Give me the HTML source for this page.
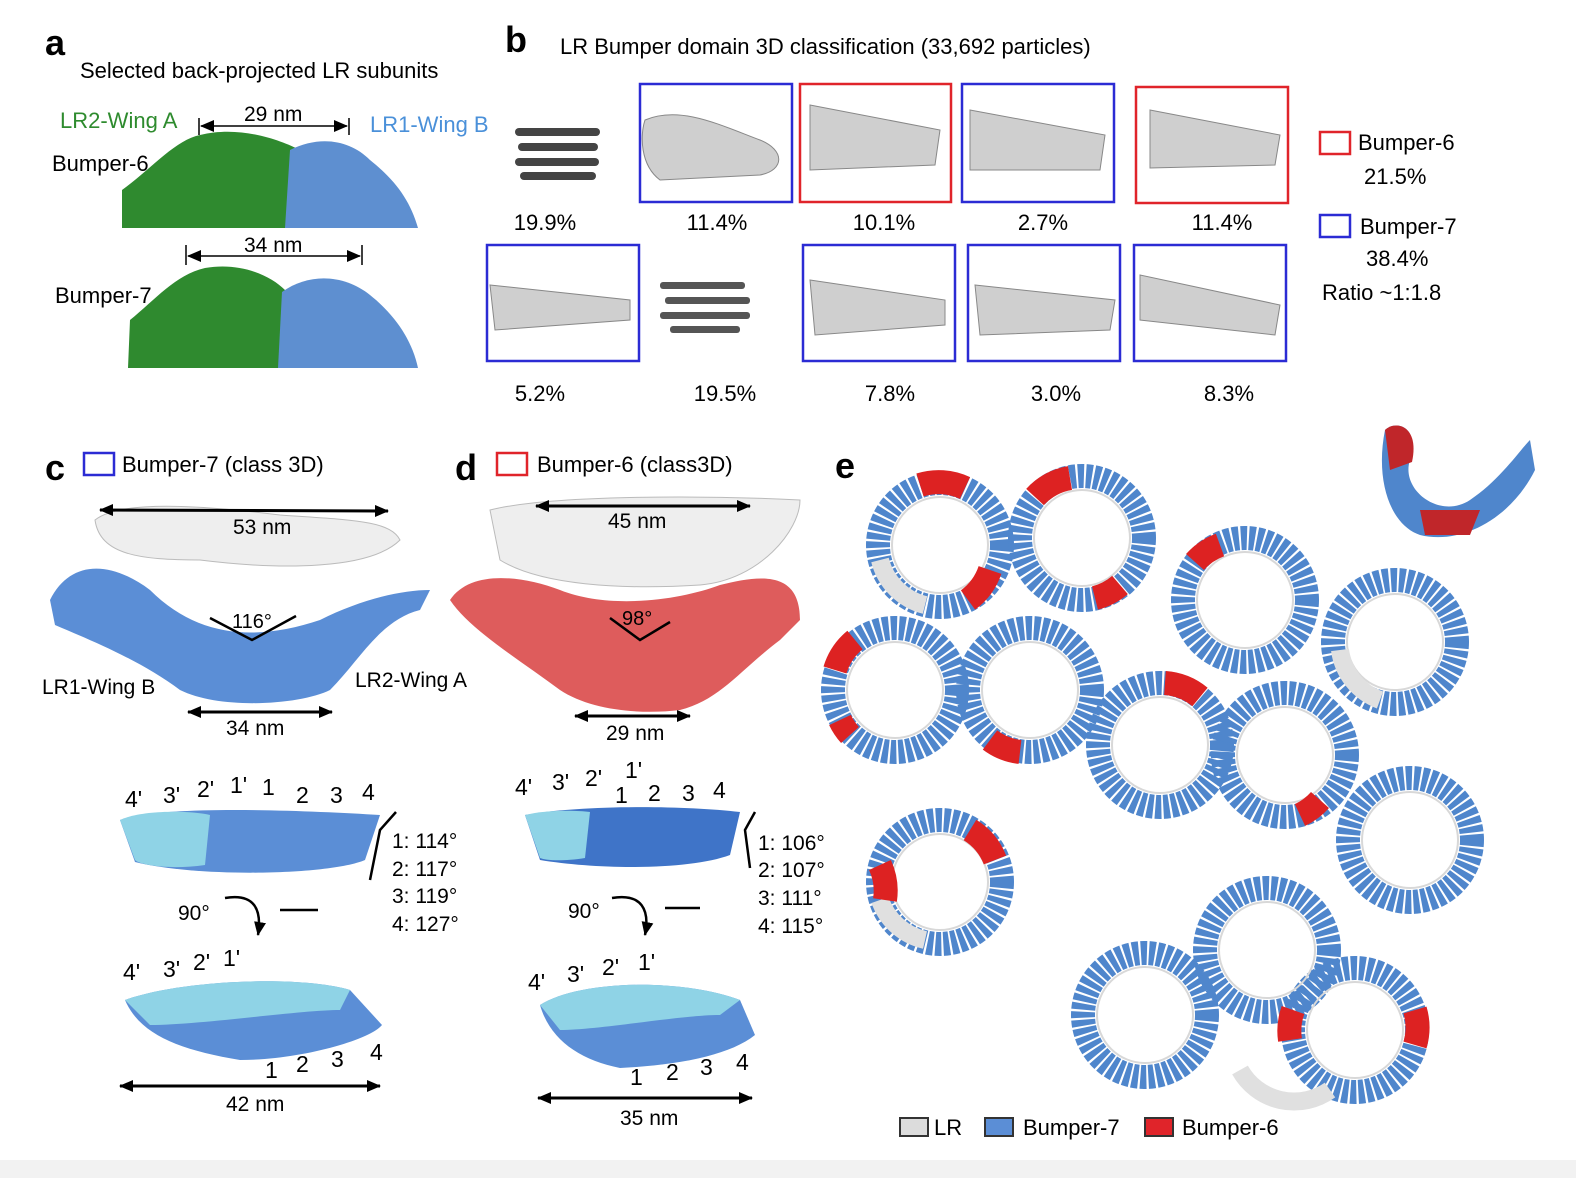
<!DOCTYPE html>
<html><head><meta charset="utf-8"><style>
html,body{margin:0;padding:0;background:#fff;}
svg{display:block;font-family:"Liberation Sans",Arial,sans-serif;}
</style></head><body>
<svg width="1576" height="1178" viewBox="0 0 1576 1178" xmlns="http://www.w3.org/2000/svg">
<defs>
<marker id="ah" markerUnits="userSpaceOnUse" markerWidth="14" markerHeight="12" refX="13" refY="6" orient="auto-start-reverse"><path d="M0,0 L14,6 L0,12 z" fill="#000"/></marker>
</defs>
<rect x="0" y="1160" width="1576" height="18" fill="#f2f2f2"/>

<!-- Panel a -->
<text x="45" y="55" font-size="36" font-weight="bold">a</text>
<text x="80" y="78" font-size="22">Selected back-projected LR subunits</text>
<text x="60" y="128" font-size="22" fill="#2e8b2e">LR2-Wing A</text>
<text x="370" y="132" font-size="22" fill="#4a90d9">LR1-Wing B</text>
<text x="52" y="171" font-size="22">Bumper-6</text>
<text x="55" y="303" font-size="22">Bumper-7</text>
<line x1="199" y1="118" x2="199" y2="135" stroke="#000" stroke-width="1.5"/>
<line x1="349" y1="118" x2="349" y2="135" stroke="#000" stroke-width="1.5"/>
<line x1="201" y1="126" x2="347" y2="126" stroke="#000" stroke-width="1.5" marker-start="url(#ah)" marker-end="url(#ah)"/>
<text x="244" y="121" font-size="21">29 nm</text>
<path d="M122,228 L122,190 C150,170 175,140 200,135 C240,125 280,140 300,150 L300,228 Z" fill="#2f8a2f"/>
<path d="M285,228 L290,150 C320,135 350,140 370,160 C395,180 410,200 418,228 Z" fill="#5e8fd0"/>
<line x1="186" y1="245" x2="186" y2="265" stroke="#000" stroke-width="1.5"/>
<line x1="362" y1="245" x2="362" y2="265" stroke="#000" stroke-width="1.5"/>
<line x1="188" y1="256" x2="360" y2="256" stroke="#000" stroke-width="1.5" marker-start="url(#ah)" marker-end="url(#ah)"/>
<text x="244" y="252" font-size="21">34 nm</text>
<path d="M128,368 L130,320 C155,300 175,275 205,268 C240,262 270,275 285,290 L285,368 Z" fill="#2f8a2f"/>
<path d="M278,368 L282,292 C310,272 345,275 370,295 C395,315 412,340 418,368 Z" fill="#5e8fd0"/>

<!-- Panel b -->
<text x="505" y="52" font-size="36" font-weight="bold">b</text>
<text x="560" y="54" font-size="22">LR Bumper domain 3D classification  (33,692 particles)</text>
<g fill="#cfcfcf" stroke="#888" stroke-width="1">
<g fill="#444" stroke="none"><rect x="515" y="128" width="85" height="8" rx="4"/><rect x="518" y="143" width="80" height="8" rx="4"/><rect x="515" y="158" width="84" height="8" rx="4"/><rect x="520" y="172" width="76" height="8" rx="4"/></g>
<path d="M645,120 C680,105 720,125 760,140 C785,150 785,170 760,175 L660,180 C640,165 640,135 645,120 Z"/>
<path d="M810,105 L940,130 L935,165 L810,170 Z"/>
<path d="M970,110 L1105,135 L1100,170 L970,170 Z"/>
<path d="M1150,110 L1280,135 L1275,165 L1150,168 Z"/>
<path d="M490,285 L630,300 L630,320 L495,330 Z"/>
<g fill="#555" stroke="none"><rect x="660" y="282" width="85" height="7" rx="3"/><rect x="665" y="297" width="85" height="7" rx="3"/><rect x="660" y="312" width="90" height="7" rx="3"/><rect x="670" y="326" width="70" height="7" rx="3"/></g>
<path d="M810,280 L945,300 L945,325 L815,335 Z"/>
<path d="M975,285 L1115,300 L1110,330 L980,335 Z"/>
<path d="M1140,275 L1280,305 L1275,335 L1140,320 Z"/>
</g>
<g fill="none" stroke-width="2.5">
<rect x="640" y="84" width="152" height="118" stroke="#2b2bd4"/>
<rect x="800" y="84" width="151" height="118" stroke="#e0242a"/>
<rect x="962" y="84" width="152" height="118" stroke="#2b2bd4"/>
<rect x="1136" y="87" width="152" height="116" stroke="#e0242a"/>
<rect x="487" y="245" width="152" height="116" stroke="#2b2bd4"/>
<rect x="803" y="245" width="152" height="116" stroke="#2b2bd4"/>
<rect x="968" y="245" width="152" height="116" stroke="#2b2bd4"/>
<rect x="1134" y="245" width="152" height="116" stroke="#2b2bd4"/>
<rect x="1320" y="132" width="30" height="22" stroke="#e0242a"/>
<rect x="1320" y="215" width="30" height="22" stroke="#2b2bd4"/>
</g>
<g font-size="22" text-anchor="middle">
<text x="545" y="230">19.9%</text><text x="717" y="230">11.4%</text><text x="884" y="230">10.1%</text><text x="1043" y="230">2.7%</text><text x="1222" y="230">11.4%</text>
<text x="540" y="401">5.2%</text><text x="725" y="401">19.5%</text><text x="890" y="401">7.8%</text><text x="1056" y="401">3.0%</text><text x="1229" y="401">8.3%</text>
</g>
<text x="1358" y="150" font-size="22">Bumper-6</text>
<text x="1364" y="184" font-size="22">21.5%</text>
<text x="1360" y="234" font-size="22">Bumper-7</text>
<text x="1366" y="266" font-size="22">38.4%</text>
<text x="1322" y="300" font-size="22">Ratio ~1:1.8</text>

<!-- Panel c -->
<text x="45" y="480" font-size="36" font-weight="bold">c</text>
<rect x="84" y="453" width="30" height="22" fill="none" stroke="#2b2bd4" stroke-width="2.5"/>
<text x="122" y="472" font-size="22">Bumper-7 (class 3D)</text>
<path d="M95,520 C120,500 200,505 280,515 C350,520 390,520 400,540 C370,570 280,570 200,560 C140,560 100,555 95,520 Z" fill="#eeeeee" stroke="#bbb"/>
<line x1="100" y1="510" x2="388" y2="511" stroke="#000" stroke-width="3" marker-start="url(#ah)" marker-end="url(#ah)"/>
<text x="233" y="534" font-size="21">53 nm</text>
<path d="M50,600 C70,560 110,560 150,590 C200,640 260,640 320,620 C360,600 400,590 430,590 L420,610 C380,620 360,660 330,690 C300,705 220,710 180,690 C140,660 90,640 55,625 Z" fill="#5b8ed6"/>
<polyline points="210,618 252,640 296,616" fill="none" stroke="#000" stroke-width="2.5"/>
<text x="232" y="628" font-size="20">116°</text>
<text x="42" y="694" font-size="21">LR1-Wing B</text>
<text x="355" y="687" font-size="21">LR2-Wing A</text>
<line x1="188" y1="712" x2="332" y2="712" stroke="#000" stroke-width="3" marker-start="url(#ah)" marker-end="url(#ah)"/>
<text x="226" y="735" font-size="21">34 nm</text>
<g font-size="23"><text x="125" y="807">4'</text><text x="163" y="803">3'</text><text x="197" y="797">2'</text><text x="230" y="793">1'</text><text x="262" y="795">1</text><text x="296" y="803">2</text><text x="330" y="803">3</text><text x="362" y="800">4</text></g>
<path d="M120,820 C160,805 300,810 380,815 L365,860 C330,875 200,878 135,862 Z" fill="#5b8ed6"/>
<path d="M120,820 C140,810 190,810 210,815 L205,865 C170,870 140,865 135,860 Z" fill="#8fd3e6"/>
<polyline points="396,812 380,830 370,880" fill="none" stroke="#000" stroke-width="2.5"/>
<g font-size="21"><text x="392" y="848">1: 114°</text><text x="392" y="876">2: 117°</text><text x="392" y="903">3: 119°</text><text x="392" y="931">4: 127°</text></g>
<text x="178" y="920" font-size="21">90°</text>
<path d="M225,898 C255,893 262,910 258,935" fill="none" stroke="#000" stroke-width="2.5" marker-end="url(#ah)"/>
<line x1="280" y1="910" x2="318" y2="910" stroke="#000" stroke-width="2.5"/>
<g font-size="23"><text x="123" y="980">4'</text><text x="163" y="977">3'</text><text x="193" y="970">2'</text><text x="223" y="966">1'</text><text x="265" y="1078">1</text><text x="296" y="1072">2</text><text x="331" y="1067">3</text><text x="370" y="1060">4</text></g>
<path d="M125,1000 C180,980 300,975 350,990 L382,1025 C370,1040 300,1060 240,1060 C180,1050 140,1035 125,1000 Z" fill="#5b8ed6"/>
<path d="M125,1000 C180,980 300,975 350,990 L340,1010 C300,1010 200,1025 150,1025 Z" fill="#8fd3e6"/>
<line x1="120" y1="1086" x2="380" y2="1086" stroke="#000" stroke-width="3" marker-start="url(#ah)" marker-end="url(#ah)"/>
<text x="226" y="1111" font-size="21">42 nm</text>

<!-- Panel d -->
<text x="455" y="480" font-size="36" font-weight="bold">d</text>
<rect x="497" y="453" width="30" height="22" fill="none" stroke="#e0242a" stroke-width="2.5"/>
<text x="537" y="472" font-size="22">Bumper-6 (class3D)</text>
<path d="M490,510 C550,495 700,495 800,500 C800,530 760,580 700,585 C620,590 540,585 500,560 Z" fill="#eeeeee" stroke="#bbb"/>
<line x1="536" y1="506" x2="750" y2="506" stroke="#000" stroke-width="3" marker-start="url(#ah)" marker-end="url(#ah)"/>
<text x="608" y="528" font-size="21">45 nm</text>
<path d="M450,600 C470,570 520,575 560,590 C610,610 680,600 720,585 C760,575 800,570 800,620 L780,640 C740,670 720,700 680,710 C640,715 590,710 560,690 C520,660 470,630 450,600 Z" fill="#de5c5c"/>
<polyline points="610,618 640,640 670,622" fill="none" stroke="#000" stroke-width="2.5"/>
<text x="622" y="625" font-size="20">98°</text>
<line x1="575" y1="716" x2="690" y2="716" stroke="#000" stroke-width="3" marker-start="url(#ah)" marker-end="url(#ah)"/>
<text x="606" y="740" font-size="21">29 nm</text>
<g font-size="23"><text x="515" y="795">4'</text><text x="552" y="790">3'</text><text x="585" y="786">2'</text><text x="615" y="803">1</text><text x="625" y="778">1'</text><text x="648" y="801">2</text><text x="682" y="801">3</text><text x="713" y="798">4</text></g>
<path d="M525,815 C580,805 680,805 740,812 L730,855 C690,870 600,870 540,860 Z" fill="#3f74c8"/>
<path d="M525,815 C545,810 575,810 590,812 L585,858 C560,862 545,860 540,858 Z" fill="#8fd3e6"/>
<polyline points="755,812 745,830 750,868" fill="none" stroke="#000" stroke-width="2.5"/>
<g font-size="21"><text x="758" y="850">1: 106°</text><text x="758" y="877">2: 107°</text><text x="758" y="905">3: 111°</text><text x="758" y="933">4: 115°</text></g>
<text x="568" y="918" font-size="21">90°</text>
<path d="M612,898 C642,893 650,910 645,935" fill="none" stroke="#000" stroke-width="2.5" marker-end="url(#ah)"/>
<line x1="665" y1="908" x2="700" y2="908" stroke="#000" stroke-width="2.5"/>
<g font-size="23"><text x="528" y="990">4'</text><text x="567" y="982">3'</text><text x="602" y="975">2'</text><text x="638" y="970">1'</text><text x="630" y="1085">1</text><text x="666" y="1080">2</text><text x="700" y="1075">3</text><text x="736" y="1070">4</text></g>
<path d="M540,1005 C580,980 680,978 740,1000 L755,1035 C730,1055 680,1065 620,1068 C580,1060 550,1040 540,1005 Z" fill="#5b8ed6"/>
<path d="M540,1005 C580,980 680,978 740,1000 L720,1015 C680,1015 600,1030 560,1030 Z" fill="#8fd3e6"/>
<line x1="538" y1="1098" x2="752" y2="1098" stroke="#000" stroke-width="3" marker-start="url(#ah)" marker-end="url(#ah)"/>
<text x="620" y="1125" font-size="21">35 nm</text>

<!-- Panel e -->
<text x="835" y="478" font-size="36" font-weight="bold">e</text>
<g fill="none">
<g stroke="#4f86cc" stroke-width="24" stroke-dasharray="6 2">
<circle cx="940" cy="545" r="62"/><circle cx="1082" cy="538" r="62"/>
<circle cx="1245" cy="600" r="62"/><circle cx="1395" cy="642" r="62"/>
<circle cx="895" cy="690" r="62"/><circle cx="1030" cy="690" r="62"/>
<circle cx="1160" cy="745" r="62"/><circle cx="1285" cy="755" r="62"/>
<circle cx="1410" cy="840" r="62"/><circle cx="940" cy="882" r="62"/>
<circle cx="1267" cy="950" r="62"/><circle cx="1145" cy="1015" r="62"/>
<circle cx="1355" cy="1030" r="62"/>
</g>
<g stroke="#d8d8d8" stroke-width="2"><circle cx="940" cy="545" r="48"/><circle cx="1082" cy="538" r="48"/><circle cx="1245" cy="600" r="48"/><circle cx="1395" cy="642" r="48"/><circle cx="895" cy="690" r="48"/><circle cx="1030" cy="690" r="48"/><circle cx="1160" cy="745" r="48"/><circle cx="1285" cy="755" r="48"/><circle cx="1410" cy="840" r="48"/><circle cx="940" cy="882" r="48"/><circle cx="1267" cy="950" r="48"/><circle cx="1145" cy="1015" r="48"/><circle cx="1355" cy="1030" r="48"/></g>
<g stroke="#e0e0e0" stroke-width="18">
<path d="M880,560 A62,62 0 0 0 925,605"/><path d="M1340,650 A62,62 0 0 0 1380,700"/><path d="M1240,1070 A62,62 0 0 0 1330,1090"/><path d="M880,900 A62,62 0 0 0 925,940"/>
</g>
<g stroke="#dd2222" stroke-width="24">
<path d="M920,485 A62,62 0 0 1 965,488"/><path d="M990,570 A62,62 0 0 1 968,600"/>
<path d="M1035,497 A62,62 0 0 1 1070,478"/><path d="M1120,585 A62,62 0 0 1 1095,598"/>
<path d="M1195,562 A62,62 0 0 1 1220,545"/>
<path d="M835,670 A62,62 0 0 1 855,640"/><path d="M840,720 A62,62 0 0 0 850,735"/>
<path d="M990,740 A62,62 0 0 0 1020,752"/>
<path d="M1165,683 A62,62 0 0 1 1200,697"/>
<path d="M1300,815 A62,62 0 0 0 1320,800"/>
<path d="M970,830 A62,62 0 0 1 995,860"/><path d="M880,865 A62,62 0 0 1 885,900"/>
<path d="M1293,1010 A62,62 0 0 0 1290,1040"/><path d="M1415,1010 A62,62 0 0 1 1415,1045"/>
</g>
</g>
<path d="M1385,430 C1395,420 1420,425 1410,460 C1400,490 1440,520 1470,500 C1500,480 1520,450 1530,440 L1535,470 C1510,520 1460,545 1420,535 C1390,525 1375,480 1385,430 Z" fill="#4f86cc"/>
<path d="M1385,430 C1395,420 1420,425 1412,462 L1390,470 Z" fill="#c0262a"/>
<path d="M1420,510 L1480,510 L1470,535 L1425,535 Z" fill="#c0262a"/>
<rect x="900" y="1118" width="28" height="18" fill="#dcdcdc" stroke="#333" stroke-width="2"/>
<text x="934" y="1135" font-size="22">LR</text>
<rect x="985" y="1118" width="28" height="18" fill="#5b8ed6" stroke="#333" stroke-width="2"/>
<text x="1023" y="1135" font-size="22">Bumper-7</text>
<rect x="1145" y="1118" width="28" height="18" fill="#e0242a" stroke="#333" stroke-width="2"/>
<text x="1182" y="1135" font-size="22">Bumper-6</text>
</svg>
</body></html>
